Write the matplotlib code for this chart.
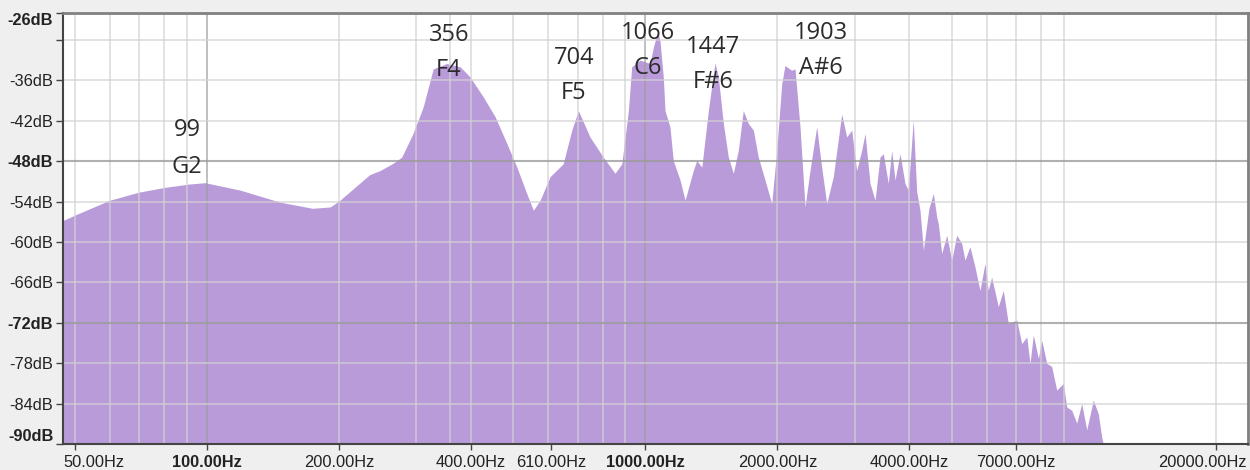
import matplotlib.pyplot as plt
from matplotlib.transforms import ScaledTranslation

# spectrum
freq = [47, 50, 60, 70, 80, 91, 99, 119, 147, 174, 191, 201, 235, 248, 266, 278,
        295, 311, 328, 352, 378, 398, 427, 454, 483, 509, 536, 555, 575, 606, 649,
        679, 703, 747, 801, 852, 883, 914, 930, 972, 1024, 1042, 1066, 1079, 1098,
        1108, 1137, 1157, 1199, 1231, 1285, 1309, 1344, 1391, 1440, 1466, 1505,
        1545, 1586, 1628, 1671, 1716, 1762, 1808, 1873, 1940, 1992, 2045, 2080,
        2154, 2193, 2251, 2311, 2372, 2457, 2522, 2590, 2681, 2802, 2876, 2953,
        3031, 3112, 3167, 3251, 3338, 3426, 3486, 3578, 3643, 3707, 3806, 3906,
        3974, 4080, 4154, 4227, 4302, 4430, 4534, 4615, 4654, 4737, 4863, 4992,
        5125, 5261, 5353, 5495, 5641, 5791, 5945, 6049, 6157, 6376, 6546, 6720,
        7024, 7211, 7403, 7532, 7665, 7869, 8010, 8222, 8441, 8666, 8971, 9133,
        9376, 9625, 9881, 10144, 10501, 10780, 10975, 11066]
level = [-56.8, -56.0, -53.8, -52.6, -51.9, -51.4, -51.2, -52.3, -54.1, -55.0, -54.8,
         -53.8, -50.0, -49.4, -48.3, -47.4, -43.9, -40.0, -34.3, -33.5, -34.0, -35.5,
         -38.5, -41.4, -45.4, -48.9, -52.8, -55.3, -53.8, -50.3, -48.4, -43.4, -40.5,
         -44.4, -47.4, -49.8, -48.4, -40.5, -34.0, -33.0, -33.5, -31.1, -28.8, -30.1,
         -35.5, -40.5, -42.9, -47.9, -50.8, -53.8, -49.4, -47.9, -48.9, -40.5, -33.4,
         -35.5, -42.4, -47.4, -49.8, -46.4, -40.5, -42.4, -43.4, -47.4, -50.8, -54.3,
         -46.4, -36.5, -33.8, -34.5, -34.3, -42.9, -54.8, -49.4, -42.9, -48.9, -54.3,
         -50.3, -41.0, -44.4, -43.4, -49.4, -46.4, -43.9, -51.3, -53.8, -47.4, -46.9,
         -51.3, -46.4, -50.8, -46.9, -51.3, -52.3, -41.9, -52.5, -55.3, -61.2, -55.0,
         -52.8, -56.3, -57.3, -61.7, -59.0, -62.7, -59.0, -60.2, -62.7, -60.7, -63.7,
         -67.2, -63.2, -67.2, -65.2, -69.6, -67.2, -72.1, -71.6, -75.1, -74.1, -78.0,
         -73.8, -77.3, -74.6, -78.0, -78.5, -82.0, -81.0, -84.5, -85.0, -86.9, -84.0,
         -87.9, -83.5, -85.5, -89.0, -90.0]

# peak annotations
peak_hz = ['99', '356', '704', '1066', '1447', '1903']
notes = ['G2', 'F4', 'F5', 'C6', 'F#6', 'A#6']

# axis labels
xtick_vals = [50, 100, 200, 400, 610, 1000, 2000, 4000, 7000, 20000]
xtick_text = ['50.00Hz', '100.00Hz', '200.00Hz', '400.00Hz', '610.00Hz',
              '1000.00Hz', '2000.00Hz', '4000.00Hz', '7000.00Hz', '20000.00Hz']
ytick_vals = [-90, -84, -78, -72, -66, -60, -54, -48, -42, -36, -30, -26]
ytick_text = ['-90dB', '-84dB', '-78dB', '-72dB', '-66dB', '-60dB', '-54dB',
              '-48dB', '-42dB', '-36dB', '', '-26dB']

# layout / style
grid_x = [50, 60, 70, 80, 90, 200, 300, 358, 400, 500, 600, 700, 800, 900,
          2000, 3000, 4000, 5000, 6000, 7000, 8000, 9000, 20000]
grid_x_major = [100, 1000]
grid_y = [-84, -78, -66, -60, -54, -42, -36, -30]
grid_y_major = [-72, -48]
ann_x = [90, 356, 687, 1013, 1428, 2513]
ann_num_y = [-43.4, -29.3, -32.7, -28.9, -31.1, -28.9]
ann_note_y = [-48.9, -34.5, -37.9, -34.1, -36.3, -34.1]

fig = plt.figure(figsize=(12.5, 4.7), dpi=100, facecolor='#efefef')
ax = fig.add_axes([63 / 1250, 26 / 470, 1185 / 1250, 431 / 470])
ax.set_facecolor('white')

ax.fill_between(freq, level, -90, color='#b99bda', lw=0, zorder=1)

for g in grid_x:
    ax.axvline(g, color='#d2d2d2', lw=1.3, alpha=0.7, zorder=2)
for g in grid_x_major:
    ax.axvline(g, color='#9c9c9c', lw=1.3, alpha=0.7, zorder=2)
for g in grid_y:
    ax.axhline(g, color='#d2d2d2', lw=1.3, alpha=0.7, zorder=2)
for g in grid_y_major:
    ax.axhline(g, color='#9c9c9c', lw=1.5, alpha=0.8, zorder=2)

ax.set_xscale('log')
ax.set_xlim(46.95, 23660)
ax.set_ylim(-90, -26)

ax.xaxis.set_minor_locator(plt.NullLocator())
ax.set_xticks(xtick_vals)
ax.set_xticklabels(xtick_text, fontsize=11.8, family='Liberation Sans', color='#222222')
ax.set_yticks(ytick_vals)
ax.set_yticklabels(ytick_text, fontsize=11.8, family='Liberation Sans', color='#222222')
ax.tick_params(axis='x', length=4, width=1, pad=4, color='#444444')
ax.tick_params(axis='y', length=5, width=1, pad=2, color='#444444')

for lab in ax.get_xticklabels():
    if lab.get_text() in ('100.00Hz', '1000.00Hz'):
        lab.set_fontweight('bold')
xl = ax.get_xticklabels()
xl[0].set_transform(xl[0].get_transform() + ScaledTranslation(0.19, 0, fig.dpi_scale_trans))
xl[-1].set_transform(xl[-1].get_transform() + ScaledTranslation(-0.14, 0, fig.dpi_scale_trans))

for lab in ax.get_yticklabels():
    if lab.get_text() in ('-26dB', '-48dB', '-72dB', '-90dB'):
        lab.set_fontweight('bold')
yl = ax.get_yticklabels()
yl[0].set_va('bottom')
yl[-1].set_va('top')

for sp in ['left', 'bottom']:
    ax.spines[sp].set_color('#444444')
    ax.spines[sp].set_linewidth(1.5)
for sp in ['top', 'right']:
    ax.spines[sp].set_color('#808080')
    ax.spines[sp].set_linewidth(2)

for i in range(len(notes)):
    ax.text(ann_x[i], ann_num_y[i], peak_hz[i], ha='center', va='center',
            fontsize=17, family='Open Sans', color='#2b2b2b', zorder=3)
    ax.text(ann_x[i], ann_note_y[i], notes[i], ha='center', va='center',
            fontsize=17, family='Open Sans', color='#2b2b2b', zorder=3)

fig.savefig('out.png', dpi=100, facecolor=fig.get_facecolor())
